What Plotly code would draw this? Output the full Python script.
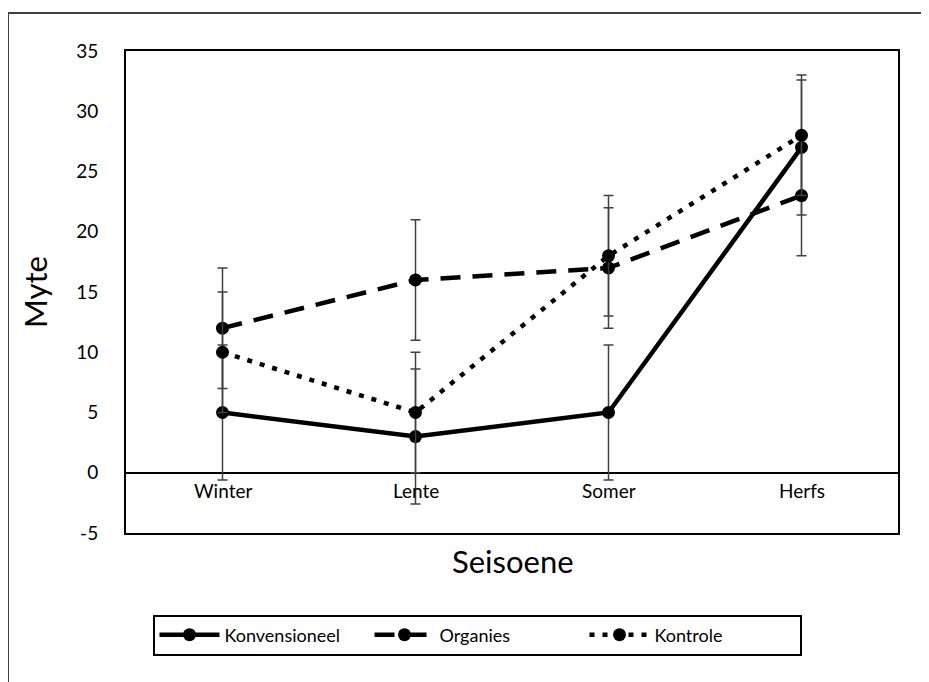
import plotly.graph_objects as go

seasons = ["Winter", "Lente", "Somer", "Herfs"]

konvensioneel = [5, 3, 5, 27]
konvensioneel_err = [5.6, 5.6, 5.6, 5.6]

organies = [12, 16, 17, 23]
organies_err = [5, 5, 5, 5]

kontrole = [10, 5, 18, 28]
kontrole_err = [5, 5, 5, 5]

y_ticks = [-5, 0, 5, 10, 15, 20, 25, 30, 35]
y_tick_labels = ["-5", "0", "5", "10", "15", "20", "25", "30", "35"]

FONT = "Lato, Open Sans, sans-serif"
ERR_COLOR = "#404040"

fig = go.Figure()

series = [
    ("Konvensioneel", konvensioneel, konvensioneel_err, "solid"),
    ("Organies", organies, organies_err, "20px,12px"),
    ("Kontrole", kontrole, kontrole_err, "5px,8px"),
]

for name, vals, errs, dash in series:
    fig.add_trace(go.Scatter(
        x=seasons, y=vals, name=name, mode="lines+markers",
        line=dict(color="black", width=4.5, dash=dash),
        marker=dict(color="black", size=13),
        error_y=dict(type="data", array=errs, visible=True,
                     color=ERR_COLOR, thickness=1.5, width=5),
    ))

# plot area in page pixels: x 126..898, y 51..533
PW, PH = 772, 482

# category labels at the zero line (Excel style)
for s in seasons:
    fig.add_annotation(x=s, y=0, xref="x", yref="y", text=s, showarrow=False,
                       yanchor="top", yshift=-4, font=dict(size=19, color="black", family=FONT))

# axis titles
fig.add_annotation(x=(35 - 126) / PW, y=0.5, xref="paper", yref="paper", text="Myte",
                   textangle=-90, showarrow=False, xanchor="center", yanchor="middle",
                   font=dict(size=31, color="black", family=FONT))
fig.add_annotation(x=(513 - 126) / PW, y=(533 - 561) / PH, xref="paper", yref="paper", text="Seisoene",
                   showarrow=False, xanchor="center", yanchor="middle",
                   font=dict(size=31, color="black", family=FONT))

# outer chart border (top and left visible)
fig.add_shape(type="line", xref="paper", yref="paper",
              x0=(8 - 126) / PW, x1=(945 - 126) / PW, y0=(533 - 13) / PH, y1=(533 - 13) / PH,
              line=dict(color="#404040", width=2))
fig.add_shape(type="line", xref="paper", yref="paper",
              x0=(8 - 126) / PW, x1=(8 - 126) / PW, y0=(533 - 13) / PH, y1=(533 - 700) / PH,
              line=dict(color="#404040", width=2))

fig.update_layout(
    width=921, height=674,
    margin=dict(l=118, r=31, t=43, b=149),
    paper_bgcolor="white", plot_bgcolor="white",
    font=dict(family=FONT, size=18, color="black"),
    showlegend=True,
    legend=dict(orientation="h", x=(477 - 126) / PW, y=(533 - 635) / PH,
                xanchor="center", yanchor="middle",
                bordercolor="black", borderwidth=2, bgcolor="white",
                font=dict(size=18, family=FONT), itemwidth=60,
                entrywidth=140, entrywidthmode="pixels"),
    xaxis=dict(type="category", range=[-0.5, 3.5], showticklabels=False,
               showgrid=False, zeroline=False, showline=True, mirror=True,
               linecolor="black", linewidth=2, ticks=""),
    yaxis=dict(range=[-5, 35], tickvals=y_ticks, ticktext=y_tick_labels, showgrid=False,
               zeroline=True, zerolinecolor="black", zerolinewidth=2,
               showline=True, mirror=True, linecolor="black", linewidth=2,
               ticks="", ticklabelstandoff=22,
               tickfont=dict(size=19, family=FONT, color="black")),
)

fig.write_html("out.html")
